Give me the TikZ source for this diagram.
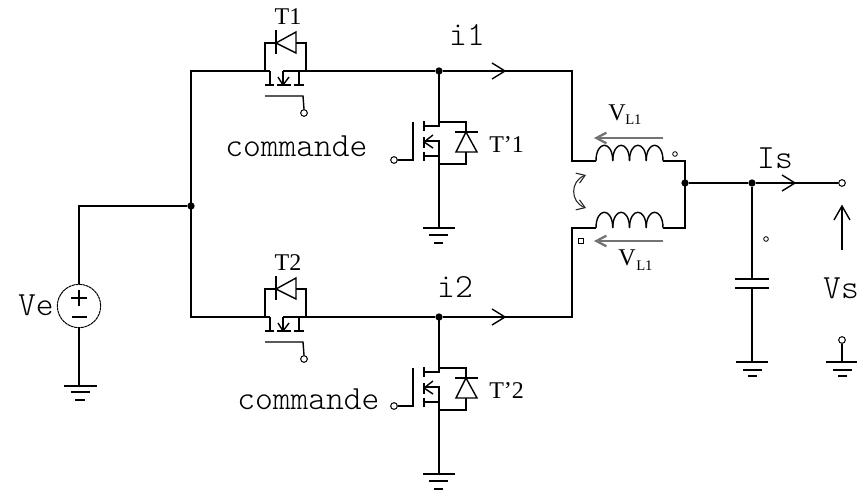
\documentclass[tikz,border=0pt]{standalone}
\usepackage{fontspec}
\setmainfont{Liberation Serif}
\newfontfamily\lightmono{Latin Modern Mono Light}
\usetikzlibrary{arrows.meta}
\newcommand{\pxfont}[1]{\fontsize{#1}{#1}\selectfont}
\tikzset{
  x=0.75pt,y=-0.75pt,
  wire/.style={line width=1.05pt,black,line join=miter},
  term/.style={circle,draw=black,line width=0.75pt,fill=white,inner sep=0pt,minimum size=5pt},
  smallterm/.style={circle,draw=black,line width=0.6pt,fill=white,inner sep=0pt,minimum size=3.5pt},
  smallsq/.style={rectangle,draw=black,line width=0.6pt,fill=white,inner sep=0pt,minimum size=3.5pt},
  junction/.style={circle,fill=black,inner sep=0pt,minimum size=5.5pt},
  mono/.style={font=\lightmono\pxfont{25.4},inner sep=0pt},
  serif/.style={font=\pxfont{18},inner sep=0pt},
  grayarrow/.style={line width=1.7pt,draw=black!55,-{Straight Barb[length=7.5pt,width=8pt]}},
  seriesswitch/.pic={
    \coordinate (-d) at (270,71);
    \coordinate (-s) at (283,71);
    \coordinate (-r) at (299,71);
    \draw[wire] (-d) -- (270,85) (265,85) -- (274,85);
    \draw[wire] (277,85) -- (291,85) (294,85) -- (304,85);
    \draw[wire] (-s) -- (283,85) (-r) -- (299,85);
    \draw[wire] (278,77) -- (283,85) -- (289,77);
    \draw[wire] (265,71) -- (265,43) -- (276,43);
    \draw[wire] (276,30) -- (276,54);
    \draw[wire] (276,43) -- (296,32) -- (296,53) -- cycle;
    \draw[wire] (296,43) -- (306,43) -- (306,71);
    \node[term] (-g) at (304,113) {};
    \draw[wire] (265,96) -- (303,96) -- (-g.north);
  },
  shuntswitch/.pic={
    \coordinate (-t) at (439,71);
    \coordinate (-b) at (439,228);
    \node[term] (-g) at (394,160) {};
    \draw[wire] (-g.east) -- (413,160) -- (413,122);
    \draw[wire] (-t) -- (439,126) -- (424,126) (424,121) -- (424,131);
    \draw[wire] (424,137) -- (424,148) (424,152) -- (424,161);
    \draw[wire] (424,156) -- (439,156);
    \draw[wire] (424,141) -- (439,141) -- (-b);
    \draw[wire] (433,135) -- (424,142) -- (433,148);
    \draw[wire] (439,122) -- (466,122) -- (466,132);
    \draw[wire] (455,132) -- (478,132);
    \draw[wire] (466,132) -- (456,152) -- (477,152) -- cycle;
    \draw[wire] (466,152) -- (466,164) -- (439,164);
    \draw[wire] (423,228) -- (455,228) (429,235) -- (448,235) (434,243) -- (443,243);
  },
  coil/.pic={
    \foreach \i in {0,1,2,3}{
      \draw[wire] ({596+\i*16.75},0) .. controls ({596+\i*16.75},-21) and ({596+(\i+1)*16.75},-21) .. ({596+(\i+1)*16.75},0);
    }
  }
}
\begin{document}
\begin{tikzpicture}
\useasboundingbox (0,0) rectangle (857,492);
\fill[white] (0,0) rectangle (857,492);

% switches
\pic (A) at (0,0) {seriesswitch};
\pic (B) at (0,246) {seriesswitch};
\pic (C) at (0,0) {shuntswitch};
\pic (D) at (0,246) {shuntswitch};

% junctions and terminals
\node[junction] (nL) at (191,206) {};
\node[junction] (nA) at (439,71) {};
\node[junction] (nB) at (439,317) {};
\node[junction] (nM) at (685,183) {};
\node[junction] (nO) at (752,183) {};
\node[term] (out) at (842,183) {};
\node[term] (gnd) at (842,340) {};
\node[circle,draw=black,line width=0.75pt,dash pattern=on 2.2pt off 0.4pt,fill=white,inner sep=0pt,minimum size=32.5pt] (src) at (79,306) {};
\coordinate (cornerA) at (191,71);
\coordinate (cornerB) at (191,317);
\coordinate (srcTop) at (79,206);

% power wires
\draw[wire] (A-d) -- (cornerA) -- (cornerB) -- (B-d);
\draw[wire] (nL) -- (srcTop) -- (src.north);
\draw[wire] (A-s) -- (nA) -- (572,71) -- (572,161) -- (596,161);
\draw[wire] (B-s) -- (nB) -- (572,317) -- (572,228) -- (596,228);
\draw[wire] (663,161) -- (685,161) -- (685,228) -- (663,228);
\draw[wire] (nM) -- (nO) -- (out);
\pic at (0,161) {coil};
\pic at (0,228) {coil};

% current chevrons
\draw[wire] (492,63) -- (505,71) -- (492,79);
\draw[wire] (492,309) -- (505,317) -- (492,325);
\draw[wire] (782,175) -- (795,183) -- (782,191);

% source
\draw[wire] (71,298) -- (87,298) (79,290) -- (79,306) (72,317) -- (87,317);
\coordinate (gS) at (79,386);
\draw[wire] (src.south) -- (gS);
\draw[wire] (64,386) -- (97,386) (71,392) -- (90,392) (75,400) -- (85,400);

% capacitor
\coordinate (capT) at (752,279);
\coordinate (capB) at (752,288);
\coordinate (capG) at (752,362);
\draw[wire] (nO) -- (capT) (capB) -- (capG);
\draw[wire] (735,279) -- (769,279) (735,288) -- (769,288);
\draw[wire] (736,362) -- (768,362) (743,370) -- (762,370) (748,376) -- (757,376);
\node[smallterm] (capdot) at (766,239) {};

% output
\coordinate (gR) at (842,362);
\draw[wire] (gnd) -- (gR);
\draw[wire] (826,362) -- (857,362) (833,370) -- (852,370) (838,376) -- (847,376);
\draw[wire] (842,250) -- (842,206);
\draw[wire] (834,220) -- (842,206) -- (850,220);

% coupling marks
\node[smallterm] (dotA) at (675,154) {};
\node[smallsq] (dotB) at (581,241) {};
\draw[grayarrow] (663,138) -- (594,138);
\draw[grayarrow] (663,241) -- (594,241);
\draw[line width=0.8pt,black!85,{Straight Barb[length=6pt,width=8pt]}-{Straight Barb[length=6pt,width=8pt]}] (586,175) .. controls (570,181) and (570,202) .. (586,208);

% labels
\node[serif] (lT1) at (288,17) {T1};
\node[serif] (lT2) at (288,263) {T2};
\node[serif,anchor=west] (lTp1) at (489,145) {T'1};
\node[serif,anchor=west] (lTp2) at (489,391) {T'2};
\node[mono,anchor=west] (cmd1) at (225,146) {commande};
\node[mono,anchor=west] (cmd2) at (237,399) {commande};
\node[mono] (li1) at (467,35) {i1};
\node[mono] (li2) at (455,287) {i2};
\node[mono] (lIs) at (775,158) {Is};
\node[mono] (lVs) at (841,288) {Vs};
\node[mono] (lVe) at (36,305) {Ve};
\node[serif] (vl1) at (617,113) {V};
\node[font=\pxfont{11},inner sep=0pt,anchor=west] (vl1s) at (625,120) {L1};
\node[serif] (vl2) at (627,258) {V};
\node[font=\pxfont{11},inner sep=0pt,anchor=west] (vl2s) at (636,266) {L1};
\end{tikzpicture}
\end{document}
